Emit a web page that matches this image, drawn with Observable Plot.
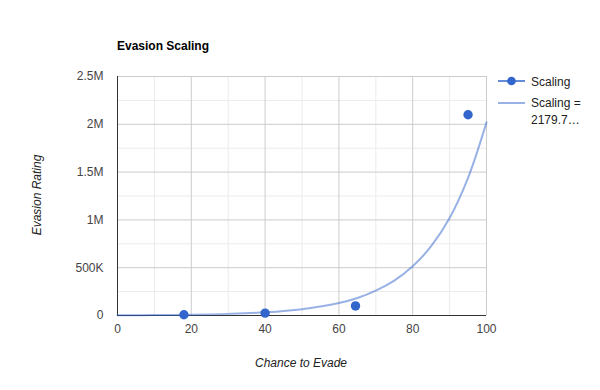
<!DOCTYPE html>
<html><head><meta charset="utf-8">
<script src="https://cdn.jsdelivr.net/npm/d3@7"></script>
<script src="https://cdn.jsdelivr.net/npm/@observablehq/plot@0.6"></script>
<style>
body{margin:0;background:#fff;font-family:"Liberation Sans",Arial,sans-serif}
#c{position:relative;width:600px;height:390px}
.t{position:absolute;white-space:nowrap;color:#222}
svg g[aria-label$="tick label"]{font-size:12px !important;}
</style></head><body><div id="c"></div>
<script>
const chance = [18, 40, 64.5, 95];
const rating = [8000, 25000, 100000, 2100000];
const trendX = [0, 10, 20, 30, 40, 50, 60, 65, 70, 75, 80, 85, 90, 95, 100];
const trendY = [2180, 4300, 8500, 17000, 33000, 66000, 130000, 183000, 260000, 365000, 515000, 725000, 1020000, 1440000, 2020000];
const xTicks = [0, 20, 40, 60, 80, 100];
const xMinor = [10, 30, 50, 70, 90];
const yTicks = [0, 500000, 1000000, 1500000, 2000000, 2500000];
const yLabels = ["0", "500K", "1M", "1.5M", "2M", "2.5M"];
const yMinor = [250000, 750000, 1250000, 1750000, 2250000];
const title = "Evasion Scaling";
const xTitle = "Chance to Evade";
const yTitle = "Evasion Rating";
const seriesName = "Scaling";
const trendName = ["Scaling =", "2179.7…"];

const points = chance.map((x, i) => ({x, y: rating[i]}));
const trend = trendX.map((x, i) => ({x, y: trendY[i]}));
const blue = "#3366cc";

const plot = Plot.plot({
  width: 600, height: 390,
  marginLeft: 117, marginRight: 114, marginTop: 76, marginBottom: 75,
  style: {fontFamily: "Liberation Sans, Arial, sans-serif", fontSize: "12px", background: "transparent"},
  x: {domain: [0, 100]},
  y: {domain: [0, 2500000]},
  marks: [
    Plot.ruleX(xMinor, {stroke: "#ebebeb"}),
    Plot.ruleY(yMinor, {stroke: "#ebebeb"}),
    Plot.ruleX(xTicks.slice(1), {stroke: "#cccccc"}),
    Plot.ruleY(yTicks.slice(1), {stroke: "#cccccc"}),
    Plot.axisX({ticks: xTicks, tickSize: 0, tickPadding: 9, label: null, fill: "#444", fontSize: 12}),
    Plot.axisY({ticks: yTicks, tickSize: 0, tickPadding: 14, label: null, fill: "#444", fontSize: 12,
      tickFormat: d => yLabels[yTicks.indexOf(d)]}),
    Plot.ruleX([0], {stroke: "#333"}),
    Plot.ruleY([0], {stroke: "#333"}),
    Plot.line(trend, {x: "x", y: "y", stroke: blue, strokeOpacity: 0.5, strokeWidth: 2, curve: "catmull-rom"}),
    Plot.dot(points, {x: "x", y: "y", r: 4.7, fill: blue, stroke: "none"})
  ]
});
const c = document.getElementById("c");
plot.style.position = "absolute"; plot.style.left = "0"; plot.style.top = "0";
c.appendChild(plot);

// legend drawn into the svg
const svg = d3.select(plot);
svg.selectAll('g[aria-label$="tick label"]').attr("font-size", 12);
const lg = svg.append("g").attr("text-anchor", "start").attr("font-size", 12).attr("fill", "#222");
lg.append("line").attr("x1", 498).attr("x2", 525).attr("y1", 81).attr("y2", 81).attr("stroke", blue).attr("stroke-width", 1.5);
lg.append("circle").attr("cx", 511.5).attr("cy", 81).attr("r", 4.3).attr("fill", blue);
lg.append("text").attr("x", 531).attr("y", 85.5).text(seriesName);
lg.append("line").attr("x1", 498).attr("x2", 525).attr("y1", 103).attr("y2", 103).attr("stroke", blue).attr("stroke-opacity", 0.5).attr("stroke-width", 2);
lg.append("text").attr("x", 531).attr("y", 106.5).text(trendName[0]);
lg.append("text").attr("x", 531).attr("y", 123.5).text(trendName[1]);

// titles
function addText(txt, css) {
  const d = document.createElement("div");
  d.className = "t"; d.textContent = txt;
  Object.assign(d.style, css);
  c.appendChild(d);
}
addText(title, {left: "117px", top: "39px", fontSize: "12px", fontWeight: "bold", color: "#000"});
addText(xTitle, {left: "301px", top: "356px", fontSize: "12px", fontStyle: "italic", transform: "translateX(-50%)"});
addText(yTitle, {left: "37px", top: "195px", fontSize: "12px", fontStyle: "italic", transform: "translate(-50%,-50%) rotate(-90deg)"});
</script></body></html>
